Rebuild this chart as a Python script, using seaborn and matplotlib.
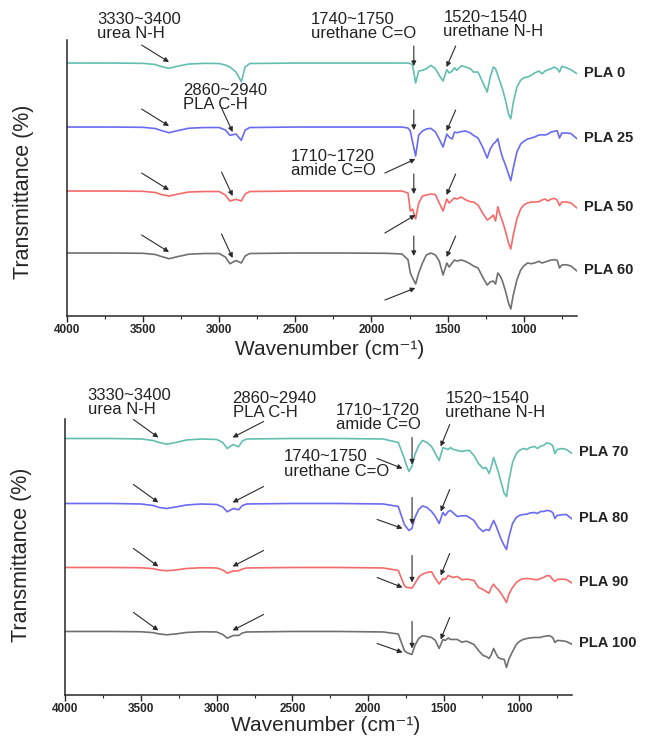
import matplotlib
matplotlib.use("Agg")
import numpy as np
import pandas as pd
import matplotlib.pyplot as plt
import seaborn as sns
from matplotlib.ticker import MultipleLocator

# wavenumber grid (cm-1), shared by all spectra
wavenumber = [4000, 3700, 3500, 3420, 3380, 3330, 3270, 3200, 3100, 3000,
              2960, 2930, 2890, 2855, 2830, 2800, 2500, 2200, 1900,
              1800, 1760, 1745, 1730, 1710, 1690, 1665, 1640, 1610, 1580,
              1555, 1530, 1505, 1490, 1470, 1455, 1440, 1410, 1380, 1350,
              1330, 1300, 1270, 1240, 1220, 1200, 1185, 1170, 1155, 1140,
              1120, 1100, 1085, 1070, 1045, 1020, 1000, 975, 950, 930,
              900, 880, 860, 840, 820, 800, 780, 765, 750, 720, 690, 650]

# absorption depth below each trace's baseline
pla0 = [0, 0, 0.3, 1.5, 3.5, 5.3, 3, 1, 0.3, 0.5, 2, 4, 9, 18.7, 4, 0.5, 0, 0, 0,
        0, 0, 0.5, 2, 20, 8, 7.3, 5.7, 2.3, 5.7, 12.3, 18, 6.7, 10, 8, 4.7, 7.3, 2.7, 4, 5.7,
        9, 9, 19, 29, 14, 4, 5.7, 12.3, 19, 25.7, 37, 50.7, 55.7, 40.7, 24, 17.3, 14.7, 14, 12.3, 10,
        8, 10.7, 8, 6.7, 5.7, 4, 5.7, 9, 3.3, 4.7, 6.7, 10.7]
pla25 = [0, 0, 0.3, 1.5, 3.5, 5.7, 3.5, 1.2, 0.5, 0.5, 3, 8.3, 7, 13.3, 3, 0.5, 0, 0, 0,
         0, 1, 4, 15, 29, 8, 4, 2, 1.3, 5, 12, 20, 7, 10, 12, 5, 5.7, 4.5, 4, 6,
         8.3, 11, 20, 31, 22, 17, 15, 11.7, 22, 30, 38, 47, 53.7, 42, 25, 17, 14.3, 12, 11, 10,
         8, 7.7, 8, 7, 5, 4.3, 3.7, 11, 6, 6, 6.5, 11.7]
pla50 = [0, 0, 0.3, 1.5, 3.5, 5, 3, 1, 0.5, 0.5, 4, 10, 8.3, 10, 3, 0.5, 0, 0, 0,
         0, 2, 20, 18, 28, 12, 5, 4, 3, 3.5, 12, 20, 8, 12, 9, 7, 8, 6, 9, 10.7,
         11, 14, 22, 29, 27, 24, 30, 15.7, 24, 30, 40, 52, 58, 45, 28, 18, 14, 12, 11, 11,
         10.7, 9, 8, 10, 8, 7.3, 9, 14.7, 11, 11, 12, 17]
pla60 = [0, 0, 0.3, 1.5, 3.5, 5.7, 3.5, 1.2, 0.5, 0.5, 4, 10.7, 7.5, 10, 3, 0.5, 0, 0, 0.3,
         1, 6.7, 20, 25, 31, 20, 10, 2, 0, 2, 8, 22, 10, 14, 10, 7, 8, 7, 8.5, 11,
         13, 15, 24, 32, 29, 28, 31, 20, 23, 28, 38, 50, 56, 43, 27, 17, 13, 10, 10.7, 10,
         8.3, 10, 9, 8, 7, 6.7, 7.3, 15, 12, 11.7, 13, 18]
pla70 = [0, 0, 0.5, 2, 4, 5.7, 4, 1.5, 0.5, 1, 4, 10, 6, 8.3, 2.5, 0.5, 0, 0, 0.5,
         4, 20, 27, 33, 28, 16, 7, 2, 4, 8, 15, 22, 9, 10, 11, 9, 10.7, 12, 13, 12,
         12, 17, 25, 30, 29, 35, 28, 19, 26, 33, 44, 55, 58, 43, 24, 15, 12, 10, 11, 9,
         8, 10, 7.7, 7, 4.3, 5, 7, 15, 11, 10, 11, 15]
pla80 = [0, 0, 0.5, 2, 4, 5, 3.5, 1.5, 0.5, 1, 3.5, 8.3, 5, 6.3, 2, 0.5, 0, 0, 0.5,
         3, 21, 24, 27, 25, 14, 6, 2.5, 4, 8, 13, 20, 9, 12, 8, 7, 9, 13, 12.3, 12.3,
         14, 17, 24, 28, 26, 27, 22, 17, 22, 28, 36, 42, 46, 34, 20, 14, 12, 11, 10.7, 9.5,
         9, 10, 8, 8, 7, 7.3, 9, 15, 12, 11.3, 11, 15.7]
pla90 = [0, 0, 0.3, 1.2, 2.5, 3.3, 2.5, 1, 0.3, 0.5, 2.5, 5.7, 3.5, 3.3, 1.5, 0.5, 0, 0, 0.5,
         3, 18, 20, 20, 20.7, 16, 9.5, 6.7, 5, 4.3, 11, 16.5, 11, 12, 8, 9, 10, 9, 12.3, 11.7,
         12, 13, 20, 22, 24, 25.7, 20, 16.7, 20, 22, 26, 31, 35, 27, 20, 15, 12.7, 11.3, 11, 11.3,
         12, 12.3, 11, 10, 8.3, 8.3, 12, 14, 12, 11.7, 12, 15.7]
pla100 = [0, 0, 0.3, 1.2, 2.5, 3.3, 2.5, 1, 0.3, 0.5, 3, 6.7, 4, 4, 1.5, 0.5, 0, 0, 0.5,
          2.5, 19, 21, 22, 23, 14, 7, 4.3, 5, 6, 9, 17, 8, 9, 6.5, 8, 8, 8, 10.7, 9.7,
          11, 13, 19, 24, 25, 27, 23, 17, 22, 26, 27.5, 28, 36, 28, 20, 13, 10, 8, 7, 6.5,
          6, 6, 6, 5, 4.5, 4.3, 6, 11, 9, 9.3, 10, 13]

top_names = ["PLA 0", "PLA 25", "PLA 50", "PLA 60"]
bottom_names = ["PLA 70", "PLA 80", "PLA 90", "PLA 100"]
top_depths = [pla0, pla25, pla50, pla60]
bottom_depths = [pla70, pla80, pla90, pla100]

colors = ["#62bfb0", "#6a6af5", "#f56a6a", "#707070"]
top_offsets = [253, 189, 125, 63]
bottom_offsets = [257, 192, 128, 64]

sns.set_theme(style="ticks")
plt.rcParams["font.family"] = ["Liberation Sans", "DejaVu Sans"]
plt.rcParams["axes.linewidth"] = 1.1

ARROW = dict(arrowstyle="-|>", color="#2a2a2a", lw=0.8, mutation_scale=7,
             shrinkA=0, shrinkB=0)
ANN_FS = 12


def arrow(ax, tail, head):
    ax.annotate("", xy=head, xytext=tail, arrowprops=ARROW, annotation_clip=False)


def note(ax, x, y, s):
    ax.text(x, y, s, ha="left", va="top", fontsize=ANN_FS, color="#222222",
            linespacing=0.95, clip_on=False)


def draw_panel(ax, names, depths, offsets):
    rows = []
    for name, d, off in zip(names, depths, offsets):
        for wn, dep in zip(wavenumber, d):
            rows.append((wn, off - dep, name))
    df = pd.DataFrame(rows, columns=["wavenumber", "transmittance", "sample"])
    sns.lineplot(data=df, x="wavenumber", y="transmittance", hue="sample",
                 palette=dict(zip(names, colors)), estimator=None, legend=False,
                 lw=1.2, ax=ax)
    for name, d, off in zip(names, depths, offsets):
        ax.text(605, off - d[-1] + 1, name, ha="left", va="center",
                fontsize=10.5, fontweight="bold", color="#222222", clip_on=False)

    ax.set_xlim(4000, 650)
    ax.set_ylim(0, 276)
    ax.xaxis.set_major_locator(MultipleLocator(500))
    ax.xaxis.set_minor_locator(MultipleLocator(250))
    ax.set_yticks([])
    ax.tick_params(axis="x", which="major", direction="out", length=4, width=1,
                   labelsize=8.5, pad=1.5)
    ax.tick_params(axis="x", which="minor", direction="out", length=2.5, width=0.8)
    for lab in ax.get_xticklabels():
        lab.set_fontweight("bold")
    sns.despine(ax=ax)
    ax.set_xlabel("Wavenumber (cm\u207b\u00b9)", fontsize=15, labelpad=0)
    ax.set_ylabel("Transmittance (%)", fontsize=15.5)


fig = plt.figure(figsize=(6.5, 7.43), dpi=100)
ax1 = fig.add_axes([0.1031, 0.5747, 0.7846, 0.3714])
ax2 = fig.add_axes([0.1005, 0.0640, 0.7800, 0.3714])

# ---- top panel ----
draw_panel(ax1, top_names, top_depths, top_offsets)
ax1.xaxis.set_label_coords(0.515, -0.088)
ax1.yaxis.set_label_coords(-0.065, 0.45)
note(ax1, 3802, 304, "3330~3400\nurea N-H")
note(ax1, 3235, 233, "2860~2940\nPLA C-H")
note(ax1, 2397, 304, "1740~1750\nurethane C=O")
note(ax1, 1527, 306, "1520~1540\nurethane N-H")
note(ax1, 2529, 167, "1710~1720\namide C=O")
amide_tail = [None, -46, -42, -47]
amide_head = [None, -32, -24, -35]
for i, b in enumerate(top_offsets):
    arrow(ax1, (3510, b + 18), (3330, b + 1))
    arrow(ax1, (1722, b + 17), (1722, b - 3))
    arrow(ax1, (1447, b + 17), (1507, b - 4))
    if i > 0:
        arrow(ax1, (2985, b + 19), (2912, b - 5))
        arrow(ax1, (1912, b + amide_tail[i]), (1712, b + amide_head[i]))

# ---- bottom panel ----
draw_panel(ax2, bottom_names, bottom_depths, bottom_offsets)
ax2.xaxis.set_label_coords(0.514, -0.074)
ax2.yaxis.set_label_coords(-0.065, 0.51)
note(ax2, 3852, 308, "3330~3400\nurea N-H")
note(ax2, 2895, 305, "2860~2940\nPLA C-H")
note(ax2, 2213, 293, "1710~1720\namide C=O")
note(ax2, 2557, 246, "1740~1750\nurethane C=O")
note(ax2, 1489, 305, "1520~1540\nurethane N-H")
v_tail = [1, 6, 12, 10]
v_head = [-26, -21, -15, -17]
d_tail = [-20, -16, -10, -12]
d_head = [-30, -25, -20, -21]
for i, b in enumerate(bottom_offsets):
    arrow(ax2, (3550, b + 19), (3385, b + 1))
    arrow(ax2, (2690, b + 17), (2895, b + 1))
    arrow(ax2, (1709, b + v_tail[i]), (1709, b + v_head[i]))
    arrow(ax2, (1940, b + d_tail[i]), (1772, b + d_head[i]))
    arrow(ax2, (1460, b + 14), (1520, b - 8))

fig.savefig("out.png", dpi=100)
